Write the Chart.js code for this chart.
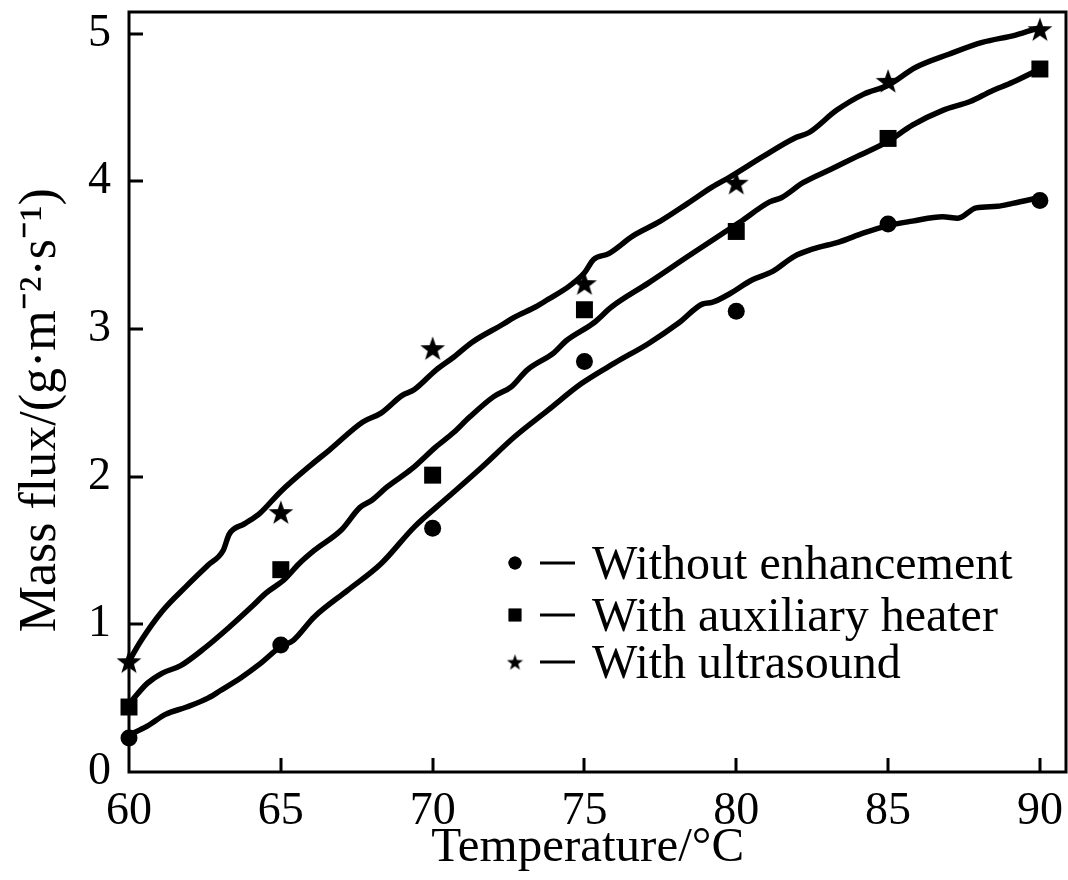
<!DOCTYPE html>
<html>
<head>
<meta charset="utf-8">
<title>Mass flux vs temperature</title>
<script src="https://cdn.jsdelivr.net/npm/chart.js@4.4.0/dist/chart.umd.min.js"></script>
<style>
  html, body { margin: 0; padding: 0; background: #fff; }
  #wrap { width: 1068px; height: 880px; }
</style>
</head>
<body>
<div id="wrap"><canvas id="flux" width="1068" height="880"></canvas></div>
<script>
// measured mass flux, one point every 5 °C
const temps = [60, 65, 70, 75, 80, 85, 90];
const fluxPlain = [0.23, 0.86, 1.65, 2.78, 3.12, 3.71, 3.87];
const fluxHeater = [0.44, 1.37, 2.01, 3.13, 3.66, 4.29, 4.76];
const fluxUltra = [0.75, 1.76, 2.87, 3.31, 3.99, 4.68, 5.03];

// trend lines drawn through each set
const fitPlainT = [60.0, 60.6, 61.2, 61.9, 62.6, 63.0, 63.7, 64.3, 65.0, 65.4, 66.1, 67.2, 68.3, 69.4, 70.5, 71.6, 72.7, 73.8, 74.9, 76.0, 77.1, 78.1, 78.9, 79.2, 79.8, 80.5, 81.2, 81.9, 82.5, 83.4, 84.2, 85.0, 85.8, 86.8, 87.3, 87.9, 88.6, 89.1, 90.0];
const fitPlainV = [0.25, 0.31, 0.39, 0.44, 0.50, 0.55, 0.64, 0.73, 0.85, 0.89, 1.05, 1.23, 1.41, 1.66, 1.86, 2.06, 2.27, 2.45, 2.63, 2.77, 2.90, 3.04, 3.17, 3.18, 3.24, 3.33, 3.39, 3.49, 3.54, 3.59, 3.65, 3.70, 3.73, 3.76, 3.75, 3.82, 3.83, 3.85, 3.89];

const fitHeaterT = [60.0, 60.6, 61.1, 61.7, 62.5, 63.3, 64.1, 64.5, 65.1, 65.6, 66.1, 67.0, 67.6, 68.0, 68.5, 69.3, 70.1, 70.7, 71.2, 72.0, 72.6, 73.1, 74.0, 74.4, 75.3, 75.9, 77.1, 78.4, 79.5, 80.1, 81.1, 81.5, 82.2, 83.1, 84.0, 85.0, 85.8, 86.8, 87.7, 88.4, 89.1, 90.0];
const fitHeaterV = [0.46, 0.60, 0.67, 0.72, 0.84, 0.98, 1.13, 1.21, 1.30, 1.41, 1.50, 1.64, 1.79, 1.84, 1.93, 2.05, 2.20, 2.30, 2.40, 2.54, 2.61, 2.72, 2.84, 2.92, 3.04, 3.15, 3.31, 3.49, 3.64, 3.72, 3.86, 3.89, 3.99, 4.08, 4.17, 4.27, 4.38, 4.48, 4.54, 4.61, 4.67, 4.76];

const fitUltraT = [60.0, 60.4, 61.1, 61.9, 62.6, 63.1, 63.3, 63.8, 64.3, 65.0, 66.0, 66.6, 67.7, 68.3, 69.0, 69.4, 70.1, 70.7, 71.3, 72.3, 72.7, 73.4, 73.8, 74.5, 75.0, 75.3, 75.8, 76.6, 77.5, 78.4, 79.2, 79.8, 80.9, 81.9, 82.4, 83.3, 84.2, 85.0, 85.9, 87.0, 88.1, 89.2, 90.0];
const fitUltraV = [0.75, 0.89, 1.09, 1.26, 1.40, 1.50, 1.61, 1.68, 1.75, 1.90, 2.08, 2.18, 2.37, 2.43, 2.55, 2.59, 2.72, 2.81, 2.91, 3.03, 3.08, 3.15, 3.20, 3.29, 3.38, 3.47, 3.51, 3.63, 3.73, 3.85, 3.96, 4.03, 4.17, 4.29, 4.33, 4.48, 4.59, 4.65, 4.77, 4.86, 4.94, 4.99, 5.04];

const xTicks = [60, 65, 70, 75, 80, 85, 90];
const yTicks = [0, 1, 2, 3, 4, 5];
const seriesNames = ['Without enhancement', 'With auxiliary heater', 'With ultrasound'];

const SERIF = "'Liberation Serif', 'Times New Roman', serif";

// filled five-point star used as a point style
function starImage(size) {
  const c = document.createElement('canvas');
  c.width = c.height = size;
  const g = c.getContext('2d');
  const cx = size / 2, cy = size / 2 + size * 0.05, R = size / 2, r = R * 0.4;
  g.beginPath();
  for (let i = 0; i < 10; i++) {
    const a = -Math.PI / 2 + i * Math.PI / 5;
    const rad = i % 2 ? r : R;
    g.lineTo(cx + rad * Math.cos(a), cy + rad * Math.sin(a));
  }
  g.closePath();
  g.fillStyle = '#000';
  g.fill();
  return c;
}
const bigStar = starImage(26);
const smallStar = starImage(17);

const pts = (xs, ys) => xs.map((x, i) => ({ x: x, y: ys[i] }));

function fitLine(xs, ys) {
  return {
    data: pts(xs, ys),
    borderColor: '#000',
    borderWidth: 5.5,
    pointRadius: 0,
    cubicInterpolationMode: 'monotone',
    clip: false
  };
}

function markers(label, ys, style, radius, legendStyle, legendRadius) {
  return {
    label: label,
    data: pts(temps, ys),
    showLine: false,
    pointStyle: style,
    pointRadius: radius,
    backgroundColor: '#000',
    borderColor: '#000',
    borderWidth: 0,
    clip: false,
    legendStyle: legendStyle,
    legendRadius: legendRadius
  };
}

// frame around the plot and short inward tick marks
const frameTicks = {
  id: 'frameTicks',
  afterDraw(chart) {
    const { ctx, chartArea: a } = chart;
    const xs = chart.scales.x, ys = chart.scales.y;
    ctx.save();
    ctx.strokeStyle = '#000';
    ctx.lineWidth = 3;
    ctx.strokeRect(a.left, a.top, a.right - a.left, a.bottom - a.top);
    ctx.beginPath();
    xTicks.slice(1).forEach(v => {
      const px = Math.round(xs.getPixelForValue(v));
      ctx.moveTo(px, a.bottom);
      ctx.lineTo(px, a.bottom - 14);
    });
    yTicks.slice(1).forEach(v => {
      const py = Math.round(ys.getPixelForValue(v));
      ctx.moveTo(a.left, py);
      ctx.lineTo(a.left + 14, py);
    });
    ctx.stroke();
    ctx.restore();
  }
};

// legend inside the plot: marker, dash, name
const markLegend = {
  id: 'markLegend',
  afterDraw(chart) {
    const { ctx, chartArea: a } = chart;
    const rows = [a.bottom - 209, a.bottom - 157, a.bottom - 110];
    const mx = a.right - 551;
    ctx.save();
    ctx.fillStyle = '#000';
    ctx.strokeStyle = '#000';
    ctx.font = '48px ' + SERIF;
    ctx.textBaseline = 'middle';
    chart.data.datasets.filter(d => d.label).forEach((d, i) => {
      const y = rows[i];
      Chart.helpers.drawPoint(ctx, { pointStyle: d.legendStyle, radius: d.legendRadius, rotation: 0 }, mx, y);
      ctx.fill();
      ctx.lineWidth = 3;
      ctx.beginPath();
      ctx.moveTo(mx + 25, y);
      ctx.lineTo(mx + 60, y);
      ctx.stroke();
      ctx.fillText(d.label, mx + 77, y + 3);
    });
    ctx.restore();
  }
};

new Chart(document.getElementById('flux'), {
  type: 'line',
  data: {
    datasets: [
      fitLine(fitPlainT, fitPlainV),
      fitLine(fitHeaterT, fitHeaterV),
      fitLine(fitUltraT, fitUltraV),
      markers(seriesNames[0], fluxPlain, 'circle', 8.5, 'circle', 6.5),
      markers(seriesNames[1], fluxHeater, 'rect', 12, 'rect', 9),
      markers(seriesNames[2], fluxUltra, bigStar, 10, smallStar, 7)
    ]
  },
  options: {
    responsive: false,
    animation: false,
    layout: { autoPadding: false, padding: { top: 12, right: 2, left: 0, bottom: 0 } },
    plugins: { legend: { display: false }, tooltip: { enabled: false } },
    scales: {
      x: {
        type: 'linear',
        min: 60,
        max: 90.86,
        grid: { display: false, drawTicks: false },
        border: { display: false },
        afterBuildTicks: s => { s.ticks = xTicks.map(v => ({ value: v })); },
        afterFit: s => { s.height = 108; s.paddingLeft = 0; s.paddingRight = 0; },
        ticks: { color: '#000', padding: 12, font: { family: SERIF, size: 46 } },
        title: {
          display: true,
          text: 'Temperature/°C\u2009\u2009',
          color: '#000',
          padding: { top: 0, bottom: 2 },
          font: { family: SERIF, size: 49 }
        }
      },
      y: {
        min: 0,
        max: 5.146,
        grid: { display: false, drawTicks: false },
        border: { display: false },
        afterBuildTicks: s => { s.ticks = yTicks.map(v => ({ value: v })); },
        afterFit: s => { s.width = 129; s.paddingTop = 0; s.paddingBottom = 0; },
        ticks: { color: '#000', padding: 18, font: { family: SERIF, size: 46 } },
        title: {
          display: true,
          text: 'Mass flux/(g·m⁻²·s⁻¹)\u2002\u2009',
          color: '#000',
          padding: { top: 10, bottom: 0 },
          font: { family: SERIF, size: 52 }
        }
      }
    }
  },
  plugins: [frameTicks, markLegend]
});
</script>
</body>
</html>
